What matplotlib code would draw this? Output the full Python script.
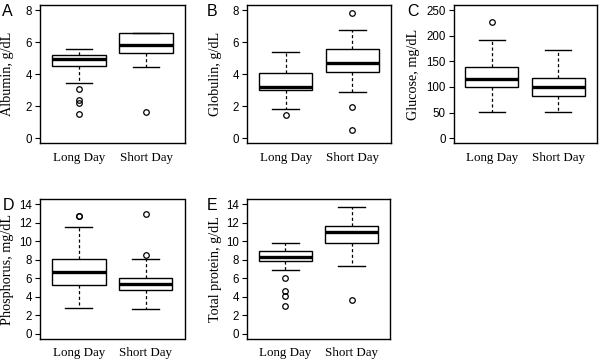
# Box plots of blood chemistry, long day vs short day
import matplotlib
matplotlib.use('Agg')
import matplotlib.pyplot as plt

groups = ['Long Day', 'Short Day']

# five-number summaries: (whislo, q1, med, q3, whishi), plus outliers
albumin = [(3.42, 4.51, 4.93, 5.22, 5.6), (4.43, 5.32, 5.82, 6.55, 6.55)]
albumin_out = [[3.1, 2.4, 2.2, 1.52], [1.65]]

globulin = [(1.84, 3.03, 3.2, 4.07, 5.41), (2.9, 4.15, 4.72, 5.55, 6.74)]
globulin_out = [[1.42], [7.81, 1.94, 0.5]]

glucose = [(51, 99, 115, 139.7, 192.6), (51, 81.6, 99.5, 117.5, 172)]
glucose_out = [[226], []]

phosphorus = [(2.8, 5.28, 6.65, 8.1, 11.58), (2.71, 4.7, 5.35, 6.04, 8.1)]
phosphorus_out = [[12.7, 12.8], [13.02, 8.57]]

protein = [(6.87, 7.89, 8.3, 8.94, 9.84), (7.31, 9.84, 11.0, 11.65, 13.68)]
protein_out = [[6.08, 4.6, 4.05, 2.97], [3.62]]

panels = [
    ('A', 'Albumin, g/dL', albumin, albumin_out, 8, [0, 2, 4, 6, 8]),
    ('B', 'Globulin, g/dL', globulin, globulin_out, 8, [0, 2, 4, 6, 8]),
    ('C', 'Glucose, mg/dL', glucose, glucose_out, 250, [0, 50, 100, 150, 200, 250]),
    ('D', 'Phosphorus, mg/dL', phosphorus, phosphorus_out, 14, [0, 2, 4, 6, 8, 10, 12, 14]),
    ('E', 'Total protein, g/dL', protein, protein_out, 14, [0, 2, 4, 6, 8, 10, 12, 14]),
]

# axes boxes in pixels: left, top, right, bottom
boxes_px = [
    (40, 5, 185, 143.3),
    (247, 5, 391, 143.3),
    (453.5, 5, 596.5, 143.3),
    (40, 199.3, 184.5, 339),
    (247, 199.3, 390, 339),
]
# px from axes left to the y label's right edge, and to the panel letter
label_off = [25.5, 25.5, 33, 25.5, 25.5]
letter_off = [38, 40, 46, 37, 40]

W, H = 600, 361
fig = plt.figure(figsize=(6, 3.61), dpi=100)

sans = 'Liberation Sans'
serif = 'Liberation Serif'

for i, ((letter, ylab, summ, outs, ymax, yt), (l, t, r, b)) in enumerate(zip(panels, boxes_px)):
    ax = fig.add_axes([l / W, 1 - b / H, (r - l) / W, (b - t) / H])
    stats = []
    for name, s, o in zip(groups, summ, outs):
        stats.append(dict(label=name, whislo=s[0], q1=s[1], med=s[2],
                          q3=s[3], whishi=s[4], fliers=o))
    ax.bxp(stats, positions=[1, 2], widths=0.8, capwidths=0.4,
           patch_artist=True,
           boxprops=dict(facecolor='white', edgecolor='black', linewidth=1.0),
           medianprops=dict(color='black', linewidth=2.4, solid_capstyle='butt'),
           whiskerprops=dict(color='black', linewidth=0.9, linestyle=(0, (2.5, 2))),
           capprops=dict(color='black', linewidth=1.0),
           flierprops=dict(marker='o', markerfacecolor='none', markeredgecolor='black',
                           markersize=4, markeredgewidth=0.9))
    pad = ymax * 0.04
    ax.set_ylim(-pad, ymax + pad)
    ax.set_xlim(0.42, 2.58)
    ax.set_yticks(yt)
    ax.set_yticklabels([str(v) for v in yt], fontfamily=sans, fontsize=8.3)
    ax.set_xticks([1, 2])
    ax.set_xticklabels(groups, fontfamily=serif, fontsize=9.4)
    ax.tick_params(axis='x', length=0, pad=6)
    ax.tick_params(axis='y', length=3.6, width=0.8, pad=2)
    for sp in ax.spines.values():
        sp.set_linewidth(1.0)
    ax.set_ylabel(ylab, fontfamily=serif, fontsize=10.2)
    ax.yaxis.set_label_coords(-label_off[i] / (r - l), 0.5)
    fig.text((l - letter_off[i]) / W, 1 - (t - 1) / H, letter, fontfamily=sans,
             fontsize=11.5, ha='left', va='top')

fig.savefig('out.png', dpi=100)
